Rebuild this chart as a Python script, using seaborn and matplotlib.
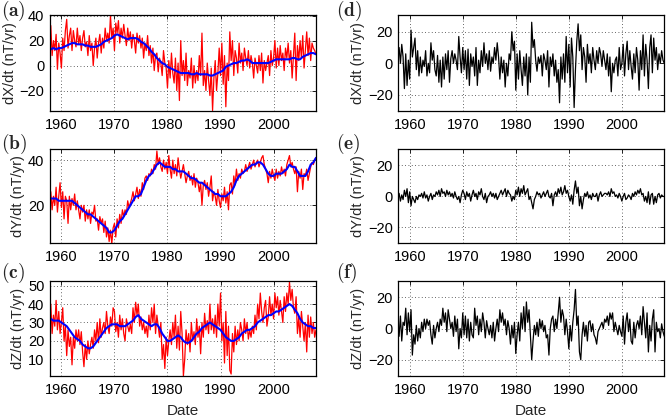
import numpy as np
import pandas as pd
import matplotlib
matplotlib.use("Agg")
import matplotlib.pyplot as plt
import seaborn as sns

# ---------------- data ----------------
start_year, end_year = 1958.0, 2008.0
t_quarter = np.arange(start_year, end_year + 0.001, 0.25)   # 201 samples
t_half = np.arange(start_year, end_year + 0.001, 0.5)       # 101 samples

# (a) dX/dt observed (red) and model (blue)
dx_obs = [32, 8, 20, 12, 25, -3, 18, 10, -2, 22, 12, 28, 37, 14, 24, 30,
          12, 28, 20, 15, 30, 17, 24, 12, 22, 28, 15, 19, 8, 24, 12, 18,
          0, 14, 22, 6, 18, 25, 10, 22, 14, 30, 20, 26, 18, 40, 22, 30,
          12, 34, 26, 36, 18, 30, 22, 33, 24, 16, 30, 20, 27, 14, 25, 20,
          10, 26, 18, 24, 14, 22, 6, 18, 12, 24, 8, 16, 2, 14, -4, 8,
          10, -5, 6, 2, -8, 12, 2, -2, -18, 4, -10, 10, -6, -14, 6, -20,
          2, -28, 20, -8, 4, -12, 10, -16, -4, -10, 6, -18, 0, -14, -4, -12,
          8, -8, 26, -16, -4, -20, 2, -12, -24, -2, -36, -10, 4, -20, -6, 14,
          -8, 18, -15, 8, -33, 2, -12, 27, 4, 20, -8, 12, 6, -6, 18, 2,
          10, -4, 14, 6, 0, 12, -2, 8, 2, -10, 6, 0, -6, 8, -4, 10,
          -14, 4, -4, 2, 8, -8, 12, 0, 6, 20, -2, 14, 0, 16, 4, 10,
          -4, 14, 6, 18, 2, 12, -10, 8, 26, -12, 16, 4, 20, 6, 24, -2,
          12, 27, 8, 22, 4, 18, 14, 12, 9]
dx_model = [13, 14, 13, 14, 14, 15, 16, 17, 18, 18, 17, 17, 17, 16, 16, 15,
            15, 15, 16, 17, 19, 20, 21, 22, 24, 25, 24, 23, 22, 21, 22, 22,
            22, 21, 19, 18, 16, 14, 11, 9, 6, 4, 2, 1, -1, -2, -3, -4,
            -5, -6, -6, -6, -6, -7, -7, -6, -7, -7, -7, -7, -8, -8, -7, -6,
            -5, -4, -1, 0, 1, 2, 2, 3, 4, 4, 5, 4, 2, 2, 2, 2,
            2, 2, 2, 3, 4, 5, 5, 5, 5, 5, 5, 6, 6, 5, 5, 7,
            8, 9, 10, 10, 9]

# (b) dY/dt observed (red) and model (blue)
dy_obs = [26, 18, 24, 20, 28, 17, 24, 30, 19, 26, 14, 24, 22, 12, 24, 18,
          23, 20, 25, 18, 22, 18, 14, 20, 17, 20, 13, 18, 14, 18, 12, 17,
          16, 20, 13, 14, 9, 15, 12, 14, 8, 13, 6, 10, 4, 9, 3, 10,
          12, 6, 14, 10, 16, 12, 18, 15, 18, 16, 22, 19, 21, 23, 26, 22,
          25, 28, 23, 27, 24, 30, 27, 32, 33, 31, 34, 33, 36, 34, 38, 36,
          44, 38, 41, 37, 35, 40, 36, 39, 34, 42, 36, 32, 40, 34, 38, 33,
          41, 36, 32, 35, 38, 34, 30, 33, 35, 31, 33, 29, 34, 28, 32, 30,
          26, 30, 20, 29, 31, 27, 30, 24, 28, 33, 22, 26, 24, 20, 27, 22,
          19, 25, 22, 28, 21, 26, 18, 29, 30, 25, 33, 29, 36, 31, 34, 32,
          36, 34, 35, 38, 35, 37, 39, 36, 38, 40, 37, 39, 40, 37, 39, 41,
          42, 38, 36, 34, 30, 35, 32, 36, 33, 31, 36, 32, 35, 33, 37, 34,
          36, 33, 38, 40, 42, 37, 39, 36, 34, 37, 26, 35, 32, 36, 27, 34,
          33, 36, 31, 34, 37, 39, 38, 40, 41]
dy_model = [23, 23, 23, 22, 22, 22, 22, 22, 22, 21, 20, 19, 18, 17, 16, 16,
            15, 14, 13, 12, 11, 10, 8, 8, 9, 11, 13, 14, 16, 18, 20, 22,
            24, 24, 25, 28, 31, 33, 34, 36, 38, 39, 38, 37, 37, 37, 36, 36,
            35, 35, 35, 34, 33, 32, 32, 31, 30, 30, 29, 28, 27, 26, 25, 25,
            24, 24, 24, 25, 26, 28, 31, 33, 34, 35, 36, 37, 38, 38, 39, 39,
            38, 36, 34, 33, 33, 34, 34, 34, 35, 36, 38, 37, 37, 35, 33, 33,
            33, 35, 38, 39, 41]

# (c) dZ/dt observed (red) and model (blue)
dz_obs = [40, 24, 34, 28, 42, 26, 36, 24, 30, 38, 20, 28, 12, 26, 17, 22,
          7, 22, 16, 26, 20, 26, 18, 25, 14, 6, 18, 10, 20, 13, 18, 22,
          16, 26, 20, 30, 19, 32, 22, 27, 30, 24, 36, 28, 24, 33, 28, 38,
          36, 25, 30, 22, 34, 26, 32, 24, 20, 32, 28, 25, 29, 24, 38, 30,
          41, 34, 40, 28, 33, 26, 30, 24, 28, 22, 34, 26, 38, 30, 40, 24,
          34, 28, 22, 30, 10, 18, 5, 22, 12, 20, 26, 18, 30, 22, 34, 16,
          28, 15, 36, 24, 1, 10, 26, 18, 24, 14, 30, 20, 25, 18, 32, 22,
          28, 13, 30, 22, 35, 26, 31, 24, 40, 26, 32, 24, 34, 22, 40, 28,
          46, 20, 30, 8, 36, 12, 28, 4, 2, 24, 14, 28, 18, 26, 20, 30,
          26, 20, 32, 24, 30, 21, 26, 22, 28, 24, 34, 26, 40, 32, 46, 36,
          30, 38, 42, 28, 33, 44, 34, 40, 32, 46, 38, 44, 34, 42, 36, 30,
          44, 36, 46, 40, 52, 42, 48, 38, 35, 44, 24, 33, 22, 36, 28, 20,
          30, 14, 34, 22, 33, 24, 30, 22, 26]
dz_model = [32, 31, 31, 31, 30, 29, 28, 26, 24, 22, 21, 20, 18, 17, 16, 16,
            17, 19, 21, 23, 25, 27, 28, 29, 29, 29, 28, 28, 28, 29, 30, 31,
            33, 34, 32, 31, 30, 29, 28, 29, 29, 27, 24, 22, 20, 20, 21, 22,
            23, 22, 20, 19, 19, 20, 22, 24, 25, 27, 28, 29, 30, 29, 28, 27,
            26, 24, 22, 21, 20, 20, 21, 22, 24, 25, 26, 26, 27, 28, 30, 31,
            32, 33, 34, 34, 35, 36, 36, 37, 38, 39, 40, 39, 37, 35, 32, 30,
            29, 28, 28, 27, 27]

# (d)-(f) residuals (black)
dx_res = [10, 0, 12, 4, -16, 6, -14, 2, -10, 21, 4, 10, 16, -4, 8, -8,
          4, -6, 2, -2, 8, -8, 0, -6, 13, 2, 8, -4, -8, 5, -12, 2,
          -15, 4, -10, 6, -4, 8, -12, 3, 8, 0, 6, 2, -4, 17, 4, -6,
          10, -4, 8, -10, 9, -14, 6, -2, 4, -8, 10, -14, 2, -6, 8, -2,
          13, 0, 6, -4, 8, -5, 4, 0, 10, 2, 13, 4, -10, 4, -6, 2,
          -15, 0, -8, 6, 2, 20, 8, 14, -17, 6, -10, 8, -4, -14, 4, -8,
          6, -20, 4, -12, 26, 10, 15, 2, -5, 4, 0, 5, -8, 6, 2, -4,
          8, -15, 4, -2, 6, -8, 2, -12, -4, -25, 4, -10, 6, -12, 17, -6,
          12, -15, 16, 4, -28, -4, 14, 25, 8, 18, -4, 10, 4, -12, 12, 0,
          6, -6, 10, 2, -4, 8, 0, 10, 6, -2, 8, 2, -4, 6, -8, 4,
          -18, 0, -6, 2, 4, -8, 10, -4, 0, 12, -8, 6, 14, -4, 8, -2,
          -10, 6, -6, 10, 2, -17, 8, -4, 18, -8, 12, 2, -16, 10, 18, -6,
          16, 2, 10, -4, 6, 0, 8, 2, 0]
dy_res = [2, -3, 1, -2, 4, 0, 5, -4, 3, -6, 0, -2, -4, 0, -2, 1,
          0, 2, -1, 3, -1, 1, -3, 0, 2, -2, 1, 0, 3, 1, 4, 0,
          5, 2, 3, 0, 4, 1, 3, 0, 2, -1, 3, 0, -2, 0, -4, 1,
          4, 2, -2, 3, 0, 2, -3, 1, 4, 0, 2, -2, 3, 1, 5, 0,
          -2, 2, -4, 0, 1, 3, 0, 2, -1, 2, -2, 0, 2, 4, 1, 3,
          5, 0, 4, 2, 1, -3, 0, -2, 4, 1, 6, 0, 5, 2, 7, 1,
          3, 5, -2, 0, -4, -8, -2, 0, 3, 1, 2, -1, 1, 3, 0, 2,
          4, 0, -1, 2, -6, 1, 3, 0, 5, 2, 6, 1, 3, 7, 2, 4,
          0, -3, 1, -5, 4, 10, 2, 6, -6, 0, -8, -2, 2, 0, 3, -1,
          1, -2, 2, 0, 0, 2, -3, 1, 3, 0, 1, 2, 2, 1, 3, 0,
          5, 2, 3, 0, 1, -1, 2, 0, -3, 0, 2, -2, -1, 1, 0, -2,
          2, 0, 3, 1, 4, 2, 5, 1, 2, -3, 0, -4, 3, -5, 1, 2,
          -5, 0, -4, 1, 2, -1, 1, 0, 0]
dz_res = [-5, 8, -8, 4, 2, 13, -4, 10, -2, 12, -17, -4, -10, 2, -8, 0,
          -6, 4, -2, 6, 0, 6, 2, 5, -4, -10, 2, -6, 0, 4, -2, 6,
          2, 13, 4, 10, -2, 12, 6, 0, 4, -5, 8, -2, 6, -13, 0, -6,
          10, -4, 8, -6, 6, -8, 4, -4, -6, 13, 2, 8, -4, 6, -2, 10,
          4, -6, 5, 0, -4, 2, -6, 4, -8, 0, 6, -2, 12, 4, 10, 2,
          6, -4, 5, 0, -10, 2, -6, 4, -16, -4, 4, -8, 10, 0, 14, -2,
          17, 4, 12, -4, -20, -8, 2, -4, 4, -5, 6, 0, 5, -2, 2, -6,
          -4, -17, 0, 6, 8, -2, 6, 0, 10, 20, 4, 12, 8, -4, 6, -2,
          -13, 2, -8, 4, 12, 25, 2, 8, -15, -20, -4, 4, -5, 2, -8, 4,
          5, -2, 3, -4, -6, -10, -2, 0, 2, 4, 0, 6, 4, 8, 2, 10,
          6, 10, -2, 4, 0, -4, 2, -2, -5, 8, -10, 4, 10, -2, 6, -8,
          -10, 4, -6, 2, 5, 0, 8, -4, 14, 4, -6, 10, -15, 2, -8, 6,
          12, -15, 4, -2, 0, -6, 3, -2, -5]

panel_letters = ["(a)", "(b)", "(c)", "(d)", "(e)", "(f)"]
left_ylabels = ["dX/dt (nT/yr)", "dY/dt (nT/yr)", "dZ/dt (nT/yr)"]
x_ticks = [1960, 1970, 1980, 1990, 2000]
left_yticks = [[-20, 0, 20, 40], [20, 40], [10, 20, 30, 40, 50]]
left_ylims = [(-36.4, 40.5), (3.2, 44.9), (1.1, 52.7)]
right_yticks = [-20, 0, 20]
right_ylim = (-30.2, 30.6)
x_lim = (1957.85, 2008.0)

# ---------------- figure ----------------
sns.set_theme(style="white")
plt.rcParams["font.family"] = ["Liberation Sans", "DejaVu Sans"]
plt.rcParams["mathtext.fontset"] = "cm"

fig = plt.figure(figsize=(6.69, 4.20), dpi=100)
W, H = 669.0, 420.0

def axes_px(l, t, r, b):
    return fig.add_axes([l / W, 1 - b / H, (r - l) / W, (b - t) / H])

rows_px = [(15, 111), (149, 243.3), (280.7, 375.7)]
left_x = (50, 316)
right_x = (398.3, 664.3)

obs = [dx_obs, dy_obs, dz_obs]
mod = [dx_model, dy_model, dz_model]
res = [dx_res, dy_res, dz_res]

def style_axes(ax, yticks, ylim):
    ax.set_xlim(*x_lim)
    ax.set_ylim(*ylim)
    ax.set_xticks(x_ticks)
    ax.set_yticks(yticks)
    ax.grid(True, color="#333333", linestyle=(0, (1, 3)), linewidth=0.6)
    ax.tick_params(direction="in", length=3, width=0.6, top=True, right=True,
                   labelsize=10.5, colors="black", pad=4)
    ax.tick_params(axis="x", pad=5)
    for s in ax.spines.values():
        s.set_visible(True)
        s.set_color("black")
        s.set_linewidth(0.9)
    ax.set_xlabel("")
    ax.set_facecolor("white")

for i in range(3):
    t, b = rows_px[i]
    axl = axes_px(left_x[0], t, left_x[1], b)
    sns.lineplot(x=t_quarter, y=np.array(obs[i], float), ax=axl, color="#ff0000",
                 linewidth=0.9, estimator=None, sort=False)
    sns.lineplot(x=t_half, y=np.array(mod[i], float), ax=axl, color="#0000ff",
                 linewidth=1.5, estimator=None, sort=False)
    style_axes(axl, left_yticks[i], left_ylims[i])
    axl.set_ylabel(left_ylabels[i], fontsize=10.5, labelpad=2)

    axr = axes_px(right_x[0], t, right_x[1], b)
    sns.lineplot(x=t_quarter, y=np.array(res[i], float), ax=axr, color="black",
                 linewidth=0.9, estimator=None, sort=False)
    style_axes(axr, right_yticks, right_ylim)
    axr.set_ylabel(left_ylabels[i], fontsize=10.5, labelpad=2)

    if i == 2:
        axl.set_xlabel("Date", fontsize=11, labelpad=5)
        axr.set_xlabel("Date", fontsize=11, labelpad=5)

label_y_px = [11, 144, 273]
for i in range(3):
    fig.text(1 / W, 1 - label_y_px[i] / H, r"$\mathbf{%s}$" % panel_letters[i],
             fontsize=14, ha="left", va="center")
    fig.text(336 / W, 1 - label_y_px[i] / H, r"$\mathbf{%s}$" % panel_letters[i + 3],
             fontsize=14, ha="left", va="center")

fig.savefig("out.png", dpi=100, facecolor="white")
